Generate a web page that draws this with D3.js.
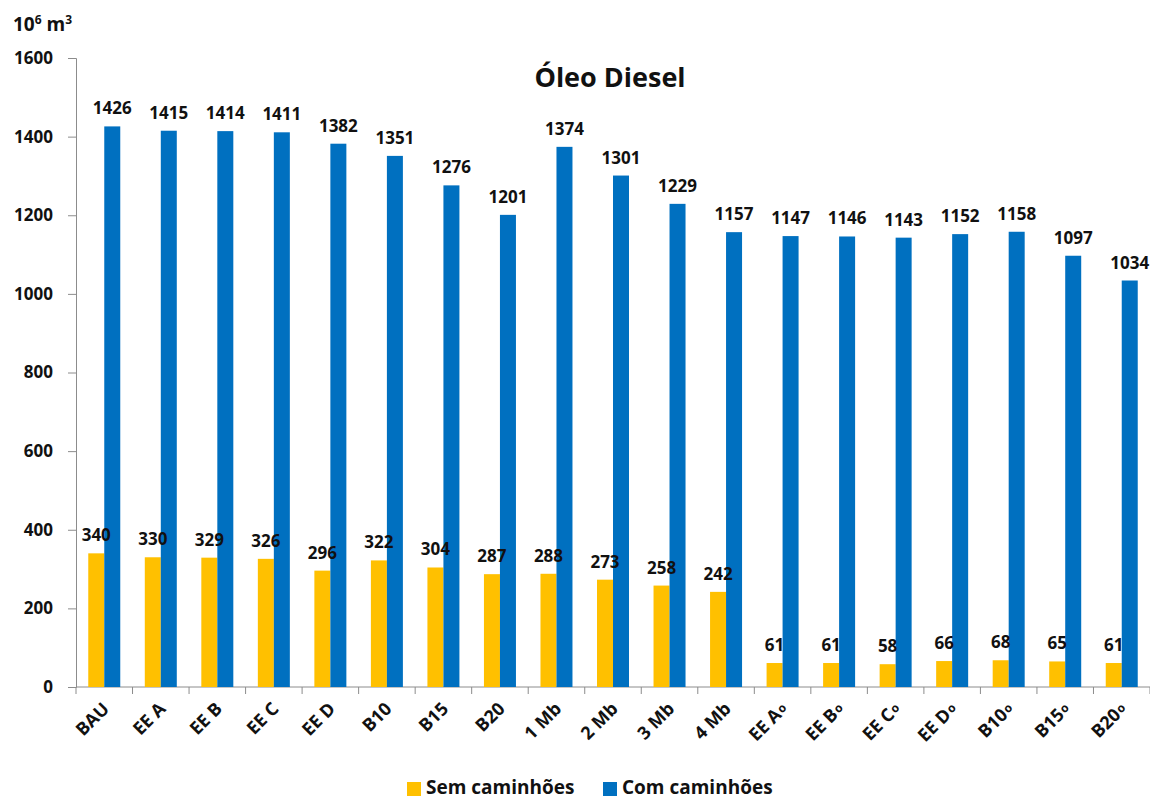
<html>
<script src="https://d3js.org/d3.v7.min.js"></script>
<style>
body { margin: 0; background: white; }
text { font-family: 'Open Sans', sans-serif; font-weight: bold; fill: #111; }
</style>
<body>
<svg width="1150" height="799"></svg>
<script>
// scenario names (the trailing "o" ones get a small "o" after them)
const categories = ["BAU", "EE A", "EE B", "EE C", "EE D", "B10", "B15", "B20",
  "1 Mb", "2 Mb", "3 Mb", "4 Mb", "EE A", "EE B", "EE C", "EE D", "B10", "B15", "B20"];
const smallO = [false, false, false, false, false, false, false, false,
  false, false, false, false, true, true, true, true, true, true, true];
const semCaminhoes = [340, 330, 329, 326, 296, 322, 304, 287, 288, 273, 258, 242, 61, 61, 58, 66, 68, 65, 61];
const comCaminhoes = [1426, 1415, 1414, 1411, 1382, 1351, 1276, 1201, 1374, 1301, 1229, 1157, 1147, 1146, 1143, 1152, 1158, 1097, 1034];
const seriesNames = ["Sem caminhões", "Com caminhões"];
const seriesColors = ["#FFC000", "#0070C0"];
const yTicks = [0, 200, 400, 600, 800, 1000, 1200, 1400, 1600];

const svg = d3.select("svg");

const x = d3.scaleBand()
  .domain(d3.range(categories.length))
  .range([76, 1150]);

const y = d3.scaleLinear()
  .domain([0, 1600])
  .range([687, 58]);

const barW = 16;
const series = [semCaminhoes, comCaminhoes];

// y axis
const yAxis = svg.append("g")
  .attr("transform", "translate(76,0)")
  .call(d3.axisLeft(y).tickValues(yTicks).tickFormat(d3.format("d")).tickSize(8).tickPadding(15));
yAxis.select(".domain").attr("stroke", "#8c8c8c");
yAxis.selectAll(".tick line").attr("stroke", "#8c8c8c");
yAxis.selectAll(".tick text")
  .style("font-size", "17px")
  .style("font-family", "'Open Sans', sans-serif")
  .attr("fill", "#111");

// x axis line and ticks between categories
svg.append("line")
  .attr("x1", 76).attr("x2", 1150)
  .attr("y1", y(0)).attr("y2", y(0))
  .attr("stroke", "#8c8c8c");
svg.selectAll(".xtick")
  .data(d3.range(categories.length + 1))
  .enter()
  .append("line")
  .attr("x1", d => 76 + d * x.bandwidth())
  .attr("x2", d => 76 + d * x.bandwidth())
  .attr("y1", y(0))
  .attr("y2", y(0) + 7)
  .attr("stroke", "#8c8c8c");

// bars
series.forEach((vals, s) => {
  const off = s === 0 ? -barW : 0;
  svg.append("g")
    .selectAll("rect")
    .data(vals)
    .enter()
    .append("rect")
    .attr("x", (d, i) => x(i) + x.bandwidth() / 2 + off)
    .attr("y", d => y(d))
    .attr("width", barW)
    .attr("height", d => y(0) - y(d))
    .attr("fill", seriesColors[s]);
});

// value labels on top of everything
series.forEach((vals, s) => {
  const off = s === 0 ? -barW : 0;
  svg.append("g")
    .selectAll("text")
    .data(vals)
    .enter()
    .append("text")
    .attr("x", (d, i) => x(i) + x.bandwidth() / 2 + off + barW / 2)
    .attr("y", d => y(d) - 12)
    .attr("text-anchor", "middle")
    .style("font-size", "17px")
    .text(d => d);
});

// category labels, rotated -45
const xl = svg.append("g")
  .selectAll("g")
  .data(categories)
  .enter()
  .append("g")
  .attr("transform", (d, i) => `translate(${x(i) + x.bandwidth() / 2 + 6},${y(0) + 23}) rotate(-45)`)
  .append("text")
  .attr("text-anchor", "end")
  .style("font-size", "18px");
xl.append("tspan").text(d => d);
xl.filter((d, i) => smallO[i])
  .append("tspan")
  .attr("dy", -2)
  .attr("dx", 1)
  .style("font-size", "12px")
  .text("o");

// title
svg.append("text")
  .attr("x", 610)
  .attr("y", 87)
  .attr("text-anchor", "middle")
  .style("font-size", "27px")
  .text("Óleo Diesel");

// unit
const unit = svg.append("text")
  .attr("x", 13)
  .attr("y", 31)
  .style("font-size", "19px");
unit.append("tspan").text("10");
unit.append("tspan").attr("dy", -7).style("font-size", "12px").text("6");
unit.append("tspan").attr("dy", 7).text(" m");
unit.append("tspan").attr("dy", -7).style("font-size", "12px").text("3");

// legend
const legendX = [407, 603];
seriesNames.forEach((name, s) => {
  svg.append("rect")
    .attr("x", legendX[s])
    .attr("y", 782)
    .attr("width", 14)
    .attr("height", 14)
    .attr("fill", seriesColors[s]);
  svg.append("text")
    .attr("x", legendX[s] + 19)
    .attr("y", 794)
    .style("font-size", "19px")
    .text(name);
});
</script>
</body>
</html>
